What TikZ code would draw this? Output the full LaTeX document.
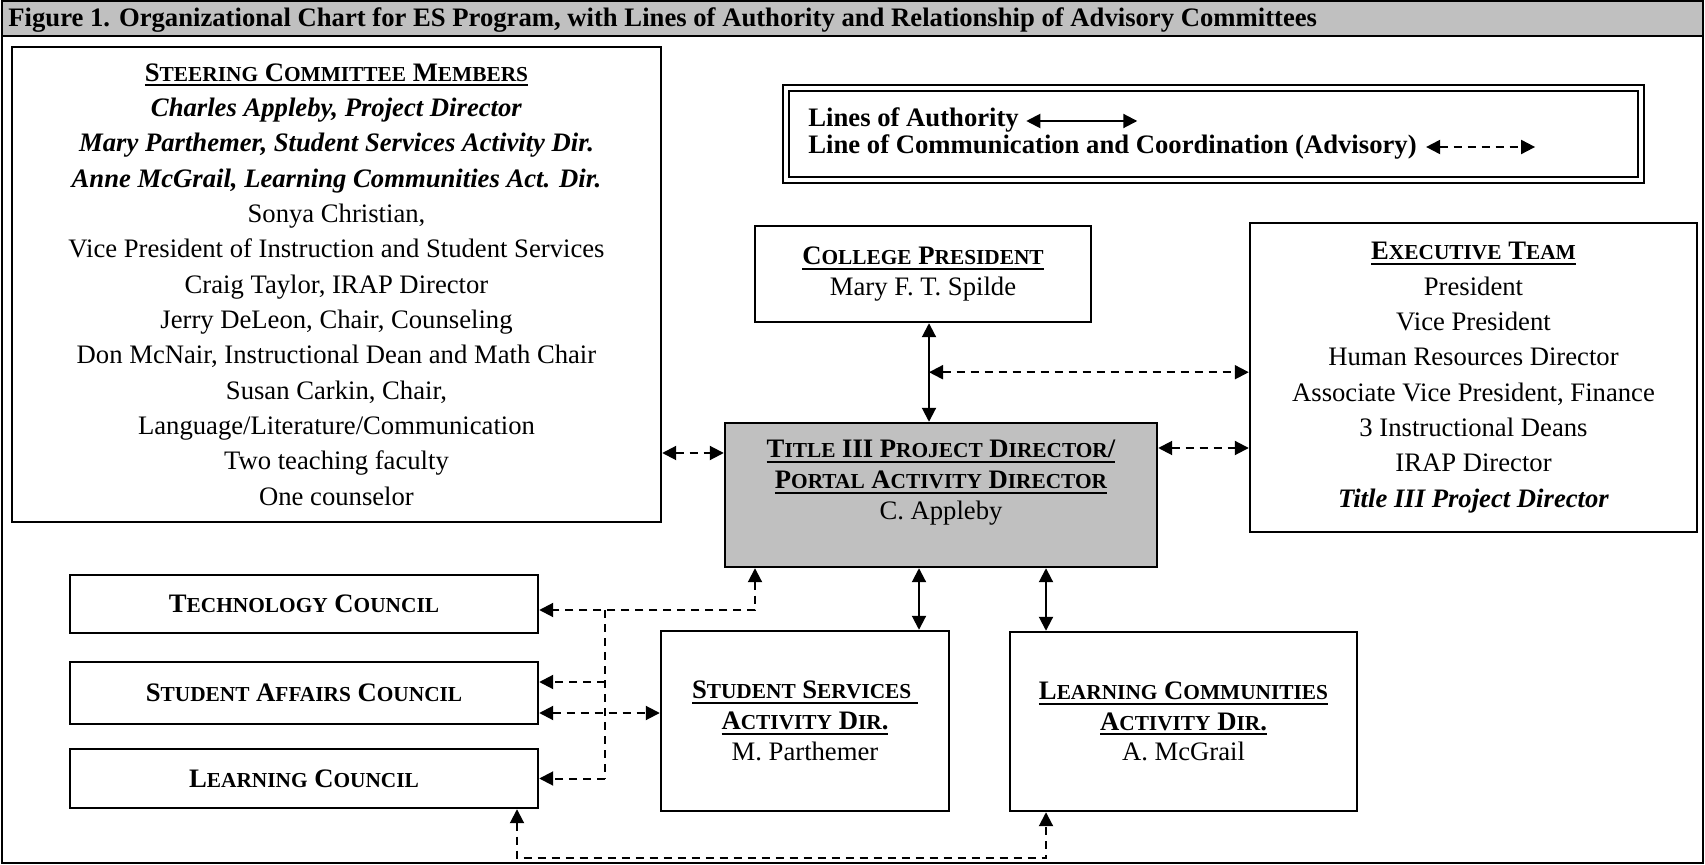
\documentclass[tikz,border=0pt]{standalone}
\usepackage{fontspec}
\setmainfont{Liberation Serif}
\usetikzlibrary{arrows.meta,calc}
\definecolor{hdrgray}{RGB}{192,192,192}
\newcommand\scw[2]{#1{\fontsize{9.6pt}{10pt}\selectfont #2}}
\newcommand\ulx[1]{\setbox0\hbox{#1}\rlap{\raisebox{-2.3pt}{\rule{\wd0}{0.9pt}}}\box0}
\begin{document}
\fontsize{12pt}{13.8pt}\selectfont
\begin{tikzpicture}[x=0.45pt,y=-0.45pt,
  >={Triangle[length=6.3pt,width=6.3pt]},
  box/.style={draw,line width=1.1pt,inner sep=0pt,align=center,font=\fontsize{12pt}{13.8pt}\selectfont},
  tallbox/.style={box,font=\fontsize{12pt}{15.9pt}\selectfont},
  council/.style={box,font=\fontsize{12pt}{13.8pt}\selectfont\bfseries,minimum width=210.6pt},
  legtext/.style={anchor=base west,inner sep=0pt,font=\fontsize{12pt}{13.8pt}\selectfont\bfseries},
  auth/.style={line width=0.9pt,<->},
  adv/.style={line width=0.9pt,dash pattern=on 3.6pt off 2.7pt},
  advthin/.style={line width=0.7pt,dash pattern=on 3.6pt off 2.7pt}]
\useasboundingbox (0,0) rectangle (1705,865);
% frame and header
\fill[hdrgray] (2,1) rectangle (1703,36);
\draw[line width=1.1pt] (2,1) rectangle (1703,863);
\draw[line width=1.2pt] (2,36) -- (1703,36);
\node[anchor=base west,inner sep=0pt,font=\fontsize{12pt}{13.8pt}\selectfont\bfseries] (hdr) at (8,27)
  {Figure 1. Organizational Chart for ES Program, with Lines of Authority and Relationship of Advisory Committees};
% steering committee
\node[tallbox,minimum width=292.05pt,minimum height=213.75pt] (steer) at (336.5,284.5) {%
  \textbf{\ulx{\scw{S}{TEERING} \scw{C}{OMMITTEE} \scw{M}{EMBERS}}}\\
  \textbf{\textit{Charles Appleby, Project Director}}\\
  \textbf{\textit{Mary Parthemer, Student Services Activity Dir.}}\\
  \textbf{\textit{Anne McGrail, Learning Communities Act. Dir.}}\\
  Sonya Christian,\\
  Vice President of Instruction and Student Services\\
  Craig Taylor, IRAP Director\\
  Jerry DeLeon, Chair, Counseling\\
  Don McNair, Instructional Dean and Math Chair\\
  Susan Carkin, Chair,\\
  Language/Literature/Communication\\
  Two teaching faculty\\
  One counselor};
% legend
\node[draw,line width=1pt,double,double distance=1.6pt,inner sep=0pt,minimum width=384.75pt,minimum height=41.2pt] (legend) at (1213.5,134) {};
\node[legtext] (legA) at (808,127) {Lines of Authority};
\node[legtext] (legB) at (808,154) {Line of Communication and Coordination (Advisory)};
\draw[auth] ($(legA.base east)+(7,-6)$) -- ($(legA.base east)+(118,-6)$);
\draw[adv,<->] ($(legB.base east)+(9,-7)$) -- ($(legB.base east)+(118,-7)$);
% college president
\node[box,minimum width=151.2pt,minimum height=43.2pt] (cp) at (923,274) {%
  \textbf{\ulx{\scw{C}{OLLEGE} \scw{P}{RESIDENT}}}\\ Mary F. T. Spilde};
% executive team
\node[tallbox,minimum width=201.15pt,minimum height=139.05pt] (exec) at (1473.5,377.5) {%
  \textbf{\ulx{\scw{E}{XECUTIVE} \scw{T}{EAM}}}\\
  President\\ Vice President\\ Human Resources Director\\
  Associate Vice President, Finance\\ 3 Instructional Deans\\ IRAP Director\\
  \textbf{\textit{Title III Project Director}}};
% title III director
\node[box,fill=hdrgray,minimum width=194.4pt,minimum height=64.8pt] (title) at (941,495) {%
  \textbf{\ulx{\scw{T}{ITLE} III \scw{P}{ROJECT} \scw{D}{IRECTOR}/}}\\
  \textbf{\ulx{\scw{P}{ORTAL} \scw{A}{CTIVITY} \scw{D}{IRECTOR}}}\\
  C. Appleby\\ \mbox{}};
% councils
\node[council,minimum height=26.1pt] (tech) at (304,604) {\scw{T}{ECHNOLOGY} \scw{C}{OUNCIL}};
\node[council,minimum height=27.9pt] (sa) at (304,693) {\scw{S}{TUDENT} \scw{A}{FFAIRS} \scw{C}{OUNCIL}};
\node[council,minimum height=26.55pt] (lcc) at (304,778.5) {\scw{L}{EARNING} \scw{C}{OUNCIL}};
% activity directors
\node[box,minimum width=129.6pt,minimum height=81pt] (ss) at (805,721) {%
  \textbf{\ulx{\scw{S}{TUDENT} \scw{S}{ERVICES}\ }}\\
  \textbf{\ulx{\scw{A}{CTIVITY} \scw{D}{IR}.}}\\ M. Parthemer};
\node[box,minimum width=156.15pt,minimum height=80.55pt] (lc) at (1183.5,721.5) {%
  \textbf{\ulx{\scw{L}{EARNING} \scw{C}{OMMUNITIES}}}\\
  \textbf{\ulx{\scw{A}{CTIVITY} \scw{D}{IR}.}}\\ A. McGrail};
% lines of authority
\draw[auth] ($(cp.south)+(6,0)$) -- ($(title.north)+(-12,0)$);
\coordinate (ts) at ($(title.south)+(-22,0)$);
\draw[auth] (ts) -- (ts |- ss.north);
\coordinate (tl) at ($(title.south)+(105,0)$);
\draw[auth] (tl) -- (tl |- lc.north);
% advisory lines
\coordinate (shaft) at ($(cp.south)+(6,49)$);
\draw[adv,<->] (shaft) -- (shaft -| exec.west);
\coordinate (te) at ($(title.east)+(0,-47)$);
\draw[adv,<->] (te) -- (te -| exec.west);
\coordinate (st) at ($(title.west)+(0,-42)$);
\draw[adv,<->] (st -| steer.east) -- (st);
\coordinate (tt) at ($(title.south)+(-186,0)$);
\coordinate (tk) at ($(tech.east)+(0,6)$);
\draw[adv,<->] (tt) |- (tk);
\coordinate (trT) at ($(tech.east)+(66,6)$);
\coordinate (trB) at (trT |- lcc.east);
\draw[advthin] (trT) -- (trB);
\coordinate (sa1) at ($(sa.east)+(0,-11)$);
\draw[adv,->] (trT |- sa1) -- (sa1);
\draw[adv,->] (trB) -- (lcc.east);
\coordinate (sa2) at ($(sa.east)+(0,20)$);
\draw[adv,<->] (sa2) -- (sa2 -| ss.west);
\coordinate (lb) at ($(lcc.south)+(213,0)$);
\coordinate (lr) at ($(lc.south)+(-137.5,0)$);
\coordinate (bot) at ($(lb)+(0,49)$);
\draw[adv,<->] (lb) -- (bot) -| (lr);
\end{tikzpicture}
\end{document}
